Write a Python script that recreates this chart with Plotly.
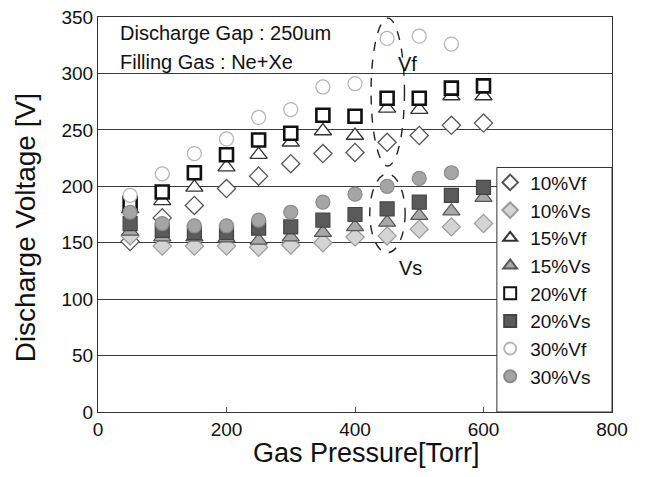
import plotly.graph_objects as go

pressure = [50, 100, 150, 200, 250, 300, 350, 400, 450, 500, 550, 600]
v10_vf = [151, 172, 183, 198, 209, 220, 229, 230, 239, 245, 254, 256]
v10_vs = [156, 147, 147, 147, 146, 148, 150, 155, 156, 162, 164, 167]
v15_vf = [180, 187, 199, 217, 228, 239, 249, 245, 269, 268, 280, 280]
v15_vs = [160, 155, 155, 154, 152, 155, 159, 164, 168, 174, 178, 190]
v20_vf = [185, 195, 212, 228, 241, 247, 263, 262, 278, 278, 287, 289]
v20_vs = [167, 161, 159, 159, 163, 164, 170, 175, 180, 186, 192, 199]
v30_vf = [192, 211, 229, 242, 261, 268, 288, 291, 331, 333, 326, None]
v30_vs = [177, 167, 165, 165, 170, 177, 186, 193, 200, 207, 212, None]

series = [
    ("10%Vf", v10_vf, dict(symbol="diamond", size=14, color="white", line=dict(color="#555555", width=1.3))),
    ("10%Vs", v10_vs, dict(symbol="diamond", size=14, color="#d4d4d4", line=dict(color="#9a9a9a", width=1.2))),
    ("15%Vf", v15_vf, dict(symbol="triangle-up", size=15, color="white", line=dict(color="#333333", width=1.3))),
    ("15%Vs", v15_vs, dict(symbol="triangle-up", size=15, color="#a8a8a8", line=dict(color="#555555", width=1.2))),
    ("20%Vf", v20_vf, dict(symbol="square", size=13, color="white", line=dict(color="#111111", width=2.6))),
    ("20%Vs", v20_vs, dict(symbol="square", size=14, color="#5a5a5a", line=dict(color="#444444", width=1.2))),
    ("30%Vf", v30_vf, dict(symbol="circle", size=14, color="white", line=dict(color="#b5b5b5", width=1.3))),
    ("30%Vs", v30_vs, dict(symbol="circle", size=14, color="#a5a5a5", line=dict(color="#8a8a8a", width=1.2))),
]

fig = go.Figure()
for i, (name, vals, mk) in enumerate(series):
    fig.add_trace(go.Scatter(x=pressure, y=vals, mode="markers", name=name,
                             marker=mk, legendgroup=f"g{i}"))

# dashed ellipses
fig.add_shape(type="circle", xref="x", yref="y", x0=425, x1=477, y0=218, y1=349,
              line=dict(color="#222222", width=1.4, dash="dash"))
fig.add_shape(type="circle", xref="x", yref="y", x0=423, x1=478, y0=141, y1=211,
              line=dict(color="#222222", width=1.4, dash="dash"))
# legend frame (reaches down to the x axis as in the reference)
fig.add_shape(type="rect", xref="paper", yref="paper", x0=0.776, x1=1.0, y0=0.0, y1=0.619,
              fillcolor="white", layer="above", line=dict(color="#333333", width=1))

fig.add_annotation(x=482, y=308, xref="x", yref="y", text="Vf", showarrow=False,
                   font=dict(size=20, color="#111111"))
fig.add_annotation(x=487, y=128, xref="x", yref="y", text="Vs", showarrow=False,
                   font=dict(size=20, color="#111111"))
fig.add_annotation(x=0.038, y=0.959, xref="paper", yref="paper", xanchor="left", yanchor="middle",
                   text="Discharge Gap : 250um", showarrow=False,
                   font=dict(size=20, color="#111111"))
fig.add_annotation(x=0.038, y=0.885, xref="paper", yref="paper", xanchor="left", yanchor="middle",
                   text="Filling Gas : Ne+Xe", showarrow=False,
                   font=dict(size=20, color="#111111"))

# axis titles
fig.add_annotation(x=0.523, y=-0.104, xref="paper", yref="paper",
                   xanchor="center", yanchor="middle",
                   text="Gas Pressure[Torr]", showarrow=False,
                   font=dict(size=27, color="#111111"))
fig.add_annotation(x=-0.142, y=0.465, xref="paper", yref="paper", textangle=-90,
                   xanchor="center", yanchor="middle",
                   text="Discharge Voltage [V]", showarrow=False,
                   font=dict(size=28, color="#111111"))

fig.update_layout(
    width=634, height=461,
    margin=dict(l=90, r=30, t=9, b=57, autoexpand=False),
    paper_bgcolor="white", plot_bgcolor="white",
    font=dict(family="Liberation Sans, Arial, sans-serif", color="#111111"),
    legend=dict(x=0.763, y=0.629, xanchor="left", yanchor="top",
                borderwidth=0, bgcolor="rgba(0,0,0,0)",
                font=dict(size=19), tracegroupgap=0, itemsizing="constant"),
    xaxis=dict(range=[0, 800], tickvals=[0, 200, 400, 600, 800], automargin=False,
               showgrid=False, zeroline=False, showline=True, linecolor="#333333",
               mirror=True, ticks="inside", ticklen=5, tickcolor="#555555",
               tickfont=dict(size=19), ticklabeloverflow="allow"),
    yaxis=dict(range=[0, 350], tickvals=[0, 50, 100, 150, 200, 250, 300, 350], automargin=False,
               showgrid=True, gridcolor="#3a3a3a", gridwidth=1.2, zeroline=False,
               showline=True, linecolor="#333333", mirror=True, ticks="",
               tickfont=dict(size=19), ticklabeloverflow="allow"),
)

fig.write_html("out.html")
